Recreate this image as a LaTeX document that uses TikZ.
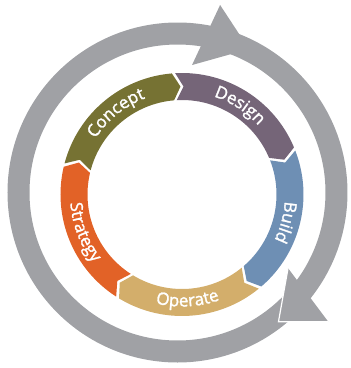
\documentclass[tikz,border=0pt]{standalone}
\usepackage{fontspec}
\usetikzlibrary{decorations.text}
\newfontfamily\cyclefont{Open Sans}[FakeBold=1.6]
\definecolor{ringgray}{HTML}{A0A1A5}
\definecolor{concept}{HTML}{767233}
\definecolor{design}{HTML}{756578}
\definecolor{build}{HTML}{6E8FB4}
\definecolor{operate}{HTML}{D3AE6B}
\definecolor{strategy}{HTML}{E26227}
\newcommand{\steptext}{|\cyclefont\fontsize{17}{17}\selectfont\color{white}|}

\begin{document}
\begin{tikzpicture}[x=1pt,y=1pt,
  outer ring/.style={draw=ringgray,line width=22pt},
  ring tip/.style={fill=ringgray},
  ring label/.style={decorate,decoration={text along path,text align=center,
    text={\steptext#1}}}]
\useasboundingbox (-177.5,-175.5) rectangle (173.5,192.5);

% grey cycle with its two arrow heads
\draw[outer ring] (0,0) circle[radius=159];
\fill[ring tip] (77.2:192.3) -- (63.5:160.3) -- (83.5:128.3) -- cycle;
\fill[ring tip] (-40.6:198.6) -- (-52:164) -- (-34.4:134) -- cycle;
\draw[white,line width=1.2pt] (-40.6:198.6) -- (-52:164) -- (-34.4:134);

% coloured steps, each one a chevron arc
\begin{scope}[shift={(4.5,-2)}]
\foreach \a/\c in {166/concept,94/design,22/build,-50/operate,-122/strategy}{
  \pgfmathsetmacro{\s}{\a-0.8}
  \pgfmathsetmacro{\e}{\a-72+0.8}
  \fill[\c] (\s:121.5) arc[start angle=\s,end angle=\e,radius=121.5]
    -- (\e-4:108) -- (\e:94.5)
    arc[start angle=\e,end angle=\s,radius=94.5]
    -- (\s-4:108) -- cycle;
}
% labels: clockwise ones read outwards, the lower two inwards
\path[ring label=Concept] (166:103) arc[start angle=166,end angle=92,radius=103];
\path[ring label=Design] (94:103) arc[start angle=94,end angle=20,radius=103];
\path[ring label=Build] (22:103) arc[start angle=22,end angle=-52,radius=103];
\path[ring label=Operate] (-124:112) arc[start angle=-124,end angle=-50,radius=112];
\path[ring label=Strategy] (-196:112) arc[start angle=-196,end angle=-122,radius=112];
\end{scope}
\end{tikzpicture}
\end{document}
